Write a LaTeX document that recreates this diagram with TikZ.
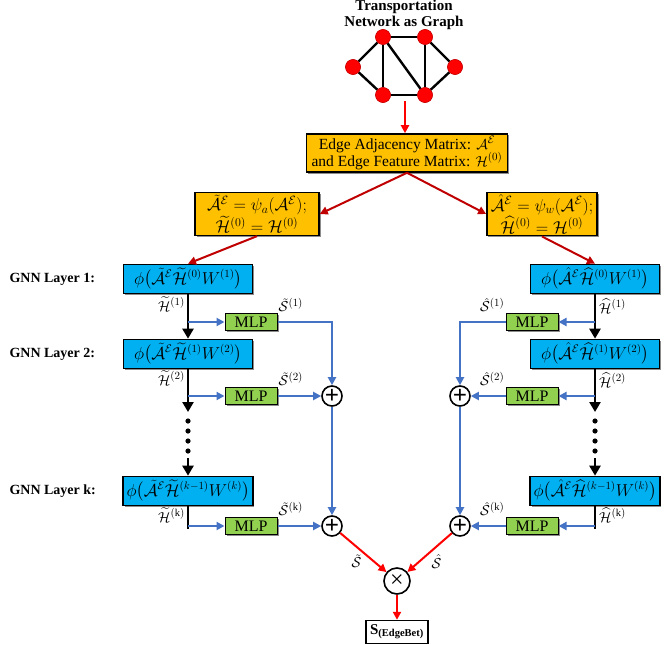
\documentclass[tikz,border=0pt]{standalone}
\usepackage{fontspec}
\setmainfont{Liberation Serif}
\usepackage{amsmath}
\usepackage{amssymb}
\usetikzlibrary{arrows.meta, positioning, calc, shadows}
\definecolor{boxorange}{RGB}{255,192,0}
\definecolor{boxcyan}{RGB}{0,176,240}
\definecolor{boxgreen}{RGB}{146,208,80}
\definecolor{lineblue}{RGB}{68,114,196}
\definecolor{darkred}{RGB}{192,0,0}
\definecolor{brightred}{RGB}{255,0,0}
\tikzset{
  vert/.style={circle, fill=brightred, draw=darkred, line width=0.4pt, minimum size=15pt, inner sep=0pt},
  gedge/.style={line width=2.4pt, black},
  boxshadow/.style={drop shadow={shadow xshift=1.5pt, shadow yshift=-1.5pt, fill=black, opacity=0.45}},
  orbox/.style={rectangle, draw, fill=boxorange, line width=1.5pt, align=center, boxshadow,
    font=\fontsize{15.5}{17}\selectfont, inner xsep=4pt, inner ysep=2.5pt},
  gnnbox/.style={rectangle, draw, fill=boxcyan, line width=1.5pt, boxshadow,
    minimum width=129pt, minimum height=29pt, font=\fontsize{16}{18}\selectfont},
  mlpbox/.style={rectangle, draw, fill=boxgreen, line width=1pt, boxshadow,
    minimum width=52pt, minimum height=17pt, inner sep=0pt, font=\fontsize{16}{16}\selectfont},
  opnode/.style={circle, draw, fill=white, line width=1.6pt, minimum size=20pt, inner sep=0pt},
  lbl/.style={font=\fontsize{14}{16}\selectfont\bfseries, align=center},
  sub/.style={font=\fontsize{15}{16}\selectfont, inner sep=1pt, black},
  redarrow/.style={-{Triangle[length=8pt, width=8pt]}, line width=2pt, darkred},
  brarrow/.style={-{Triangle[length=8pt, width=8pt]}, line width=2pt, brightred},
  blkarrow/.style={-{Triangle[length=10pt, width=11pt]}, line width=2.6pt, black},
  blkline/.style={line width=2.6pt, black},
  bluearrow/.style={-{Triangle[length=8pt, width=8pt]}, line width=2pt, lineblue},
  blueline/.style={line width=2pt, lineblue}
}
\newcommand{\plussign}{\fontsize{25}{25}\selectfont\bfseries +}
\begin{document}
\begin{tikzpicture}[x=1pt, y=-1pt]
  \useasboundingbox (0,0) rectangle (664,645);

  % transportation network
  \node[lbl, font=\fontsize{15}{16}\selectfont\bfseries] (title) at (404,15) {Transportation\\Network as Graph};
  \node[vert] (v1) at (383,37) {};
  \node[vert] (v2) at (425,37) {};
  \node[vert] (v3) at (353,67) {};
  \node[vert] (v4) at (455,67) {};
  \node[vert] (v5) at (383,95) {};
  \node[vert] (v6) at (425,95) {};
  \foreach \a/\b in {v1/v2, v1/v3, v1/v5, v1/v6, v2/v6, v2/v4, v3/v5, v5/v6, v6/v4}
    \draw[gedge] (\a) -- (\b);
  \foreach \v in {v1,v2,v3,v4,v5,v6}
    \node[vert] at (\v) {};

  % matrices
  \node[orbox, minimum width=201pt, minimum height=38pt] (adj) at (407,153) {Edge Adjacency Matrix: $\mathcal{A}^{\mathcal{E}}$\\and Edge Feature Matrix: $\mathcal{H}^{(0)}$};
  \node[orbox, font=\fontsize{17}{19}\selectfont, minimum width=124pt, minimum height=42pt] (lin) at (257,214) {$\tilde{\mathcal{A}}^{\mathcal{E}}=\psi_a(\mathcal{A}^{\mathcal{E}});$\\$\widetilde{\mathcal{H}}^{(0)}=\mathcal{H}^{(0)}$};
  \node[orbox, font=\fontsize{17}{19}\selectfont, minimum width=110pt, minimum height=42pt] (rin) at (542,214) {$\hat{\mathcal{A}}^{\mathcal{E}}=\psi_w(\mathcal{A}^{\mathcal{E}});$\\$\widehat{\mathcal{H}}^{(0)}=\mathcal{H}^{(0)}$};
  \draw[brarrow] (405,101) -- (adj.north -| 405,0);
  \draw[redarrow] (adj.south) -- (lin.east);
  \draw[redarrow] (adj.south) -- (rin.west);

  % layer labels
  \node[lbl, anchor=west] (lay1) at (6,279) {GNN Layer 1:};
  \node[lbl, anchor=west] (lay2) at (6,354) {GNN Layer 2:};
  \node[lbl, anchor=west] (layk) at (6,491) {GNN Layer k:};

  % left branch
  \node[gnnbox] (l1) at (188,279) {$\phi\big(\tilde{\mathcal{A}}^{\mathcal{E}}\widetilde{\mathcal{H}}^{(0)}W^{(1)}\big)$};
  \node[gnnbox] (l2) at (188,354) {$\phi\big(\tilde{\mathcal{A}}^{\mathcal{E}}\widetilde{\mathcal{H}}^{(1)}W^{(2)}\big)$};
  \node[gnnbox] (lk) at (188,491) {$\phi\big(\tilde{\mathcal{A}}^{\mathcal{E}}\widetilde{\mathcal{H}}^{(k-1)}W^{(k)}\big)$};
  \node[mlpbox] (lm1) at (251,322) {MLP};
  \node[mlpbox] (lm2) at (251,396) {MLP};
  \node[mlpbox] (lmk) at (251,526) {MLP};
  \node[opnode] (lp2) at (332,396) {\plussign};
  \node[opnode] (lpk) at (332,526) {\plussign};
  \coordinate (lb1) at (l1.south |- lm1);
  \coordinate (lb2) at (l2.south |- lm2);
  \coordinate (lbk) at (lk.south |- lmk);
  \coordinate (ld1) at (188,412);
  \coordinate (ld2) at (188,458);
  \coordinate (lend) at (188,529);

  \draw[redarrow] (lin.south) -- (l1.north);
  \draw[blkarrow] (l1.south) -- (l2.north);
  \draw[blkarrow] (l2.south) -- (ld1);
  \foreach \y in {421,431,441,451}
    \fill (188,\y) circle (2.6pt);
  \draw[blkarrow] (ld2) -- (lk.north);
  \draw[blkline] (lk.south) -- (lend);
  \node[sub, anchor=east] at (186,304) {$\widetilde{\mathcal{H}}^{(1)}$};
  \node[sub, anchor=east] at (186,378) {$\widetilde{\mathcal{H}}^{(2)}$};
  \node[sub, anchor=east] at (186,515) {$\widetilde{\mathcal{H}}^{(\mathrm{k})}$};
  \draw[bluearrow] (lb1) -- (lm1);
  \draw[bluearrow] (lb2) -- (lm2);
  \draw[bluearrow] (lbk) -- (lmk);
  \draw[bluearrow] (lm1) -- (lm1 -| lp2) -- (lp2.north);
  \draw[bluearrow] (lm2) -- (lp2);
  \draw[bluearrow] (lmk) -- (lpk);
  \draw[bluearrow] (lp2) -- (lpk);
  \node[sub, anchor=south west] at (lm1.north east) {$\tilde{\mathcal{S}}^{(1)}$};
  \node[sub, anchor=south west] at (lm2.north east) {$\tilde{\mathcal{S}}^{(2)}$};
  \node[sub, anchor=south west] at (lmk.north east) {$\tilde{\mathcal{S}}^{(\mathrm{k})}$};

  % right branch
  \node[gnnbox] (r1) at (595,279) {$\phi\big(\hat{\mathcal{A}}^{\mathcal{E}}\widehat{\mathcal{H}}^{(0)}W^{(1)}\big)$};
  \node[gnnbox] (r2) at (595,354) {$\phi\big(\hat{\mathcal{A}}^{\mathcal{E}}\widehat{\mathcal{H}}^{(1)}W^{(2)}\big)$};
  \node[gnnbox] (rk) at (595,491) {$\phi\big(\hat{\mathcal{A}}^{\mathcal{E}}\widehat{\mathcal{H}}^{(k-1)}W^{(k)}\big)$};
  \node[mlpbox] (rm1) at (532,322) {MLP};
  \node[mlpbox] (rm2) at (532,396) {MLP};
  \node[mlpbox] (rmk) at (532,526) {MLP};
  \node[opnode] (rp2) at (460,396) {\plussign};
  \node[opnode] (rpk) at (460,526) {\plussign};
  \coordinate (rb1) at (r1.south |- rm1);
  \coordinate (rb2) at (r2.south |- rm2);
  \coordinate (rbk) at (rk.south |- rmk);
  \coordinate (rd1) at (595,412);
  \coordinate (rd2) at (595,458);
  \coordinate (rend) at (595,529);

  \draw[redarrow] (rin.south) -- (r1.north);
  \draw[blkarrow] (r1.south) -- (r2.north);
  \draw[blkarrow] (r2.south) -- (rd1);
  \foreach \y in {421,431,441,451}
    \fill (595,\y) circle (2.6pt);
  \draw[blkarrow] (rd2) -- (rk.north);
  \draw[blkline] (rk.south) -- (rend);
  \node[sub, anchor=west] at (598,306) {$\widehat{\mathcal{H}}^{(1)}$};
  \node[sub, anchor=west] at (598,380) {$\widehat{\mathcal{H}}^{(2)}$};
  \node[sub, anchor=west] at (598,515) {$\widehat{\mathcal{H}}^{(\mathrm{k})}$};
  \draw[bluearrow] (rb1) -- (rm1);
  \draw[bluearrow] (rb2) -- (rm2);
  \draw[bluearrow] (rbk) -- (rmk);
  \draw[bluearrow] (rm1) -- (rm1 -| rp2) -- (rp2.north);
  \draw[bluearrow] (rm2) -- (rp2);
  \draw[bluearrow] (rmk) -- (rpk);
  \draw[bluearrow] (rp2) -- (rpk);
  \node[sub, anchor=south east] at (rm1.north west) {$\hat{\mathcal{S}}^{(1)}$};
  \node[sub, anchor=south east] at (rm2.north west) {$\hat{\mathcal{S}}^{(2)}$};
  \node[sub, anchor=south east] at (rmk.north west) {$\hat{\mathcal{S}}^{(\mathrm{k})}$};

  % fusion
  \node[opnode, minimum size=26pt] (mul) at (397,581) {\fontsize{24}{24}\selectfont ×};
  \node[rectangle, draw, fill=white, line width=1.4pt, minimum width=62pt, minimum height=23pt, inner sep=1pt] (out) at (397,632)
    {\fontsize{15}{17}\selectfont\textbf{S}$_{\textbf{(EdgeBet)}}$};
  \draw[brarrow] (lpk) -- node[sub, below left] {$\tilde{\mathcal{S}}$} (mul);
  \draw[brarrow] (rpk) -- node[sub, below right] {$\hat{\mathcal{S}}$} (mul);
  \draw[brarrow] (mul) -- (out);
\end{tikzpicture}
\end{document}
